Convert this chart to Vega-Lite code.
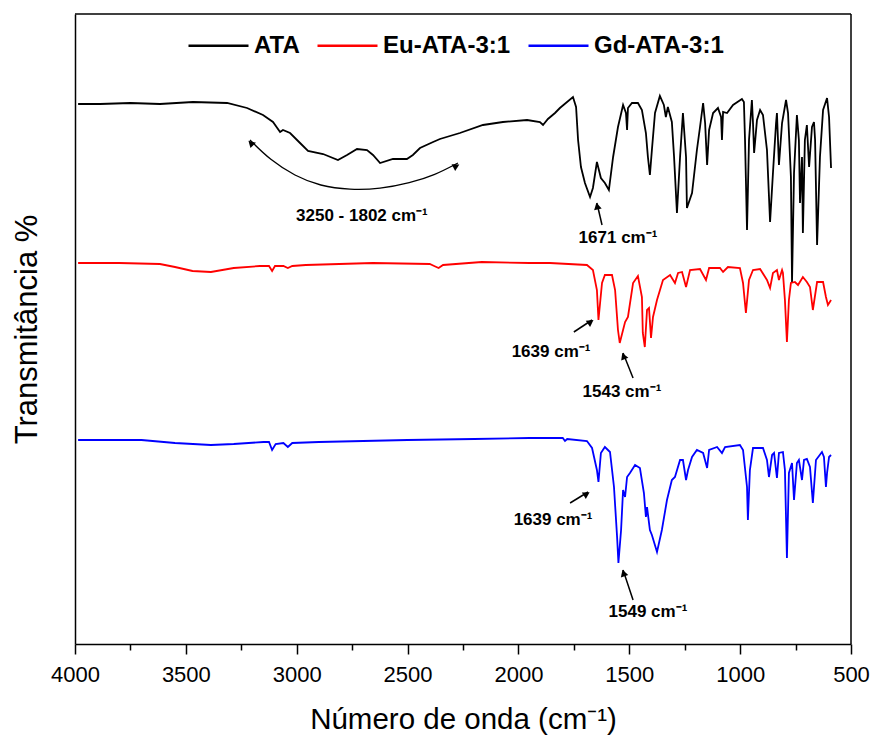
{
  "$schema": "https://vega.github.io/schema/vega-lite/v6.json",
  "width": 776,
  "height": 630,
  "autosize": {"type": "none"},
  "padding": {"left": 75, "top": 14, "right": 21, "bottom": 101},
  "background": "white",
  "config": {
    "font": "Liberation Sans",
    "view": {"stroke": null},
    "axis": {"grid": false}
  },
  "datasets": {
    "spectra": [
      {"s":"ATA","w":3986,"t":540},{"s":"ATA","w":3887,"t":540},{"s":"ATA","w":3750,"t":541},{"s":"ATA","w":3617,"t":540},{"s":"ATA","w":3468,"t":542},{"s":"ATA","w":3314,"t":541},{"s":"ATA","w":3224,"t":536},{"s":"ATA","w":3152,"t":529},{"s":"ATA","w":3107,"t":522},{"s":"ATA","w":3075,"t":512},{"s":"ATA","w":3062,"t":514},{"s":"ATA","w":3030,"t":511},{"s":"ATA","w":2985,"t":501},{"s":"ATA","w":2949,"t":493},{"s":"ATA","w":2881,"t":490},{"s":"ATA","w":2814,"t":484},{"s":"ATA","w":2773,"t":489},{"s":"ATA","w":2728,"t":495},{"s":"ATA","w":2683,"t":494},{"s":"ATA","w":2656,"t":489},{"s":"ATA","w":2624,"t":481},{"s":"ATA","w":2566,"t":485},{"s":"ATA","w":2503,"t":485},{"s":"ATA","w":2476,"t":489},{"s":"ATA","w":2444,"t":496},{"s":"ATA","w":2385,"t":502},{"s":"ATA","w":2354,"t":505},{"s":"ATA","w":2264,"t":511},{"s":"ATA","w":2160,"t":519},{"s":"ATA","w":2070,"t":522},{"s":"ATA","w":1961,"t":524},{"s":"ATA","w":1903,"t":522},{"s":"ATA","w":1889,"t":519},{"s":"ATA","w":1867,"t":525},{"s":"ATA","w":1835,"t":531},{"s":"ATA","w":1813,"t":536},{"s":"ATA","w":1754,"t":547},{"s":"ATA","w":1740,"t":537},{"s":"ATA","w":1731,"t":504},{"s":"ATA","w":1718,"t":477},{"s":"ATA","w":1700,"t":461},{"s":"ATA","w":1677,"t":447},{"s":"ATA","w":1664,"t":456},{"s":"ATA","w":1646,"t":482},{"s":"ATA","w":1628,"t":466},{"s":"ATA","w":1610,"t":461},{"s":"ATA","w":1592,"t":454},{"s":"ATA","w":1573,"t":487},{"s":"ATA","w":1551,"t":517},{"s":"ATA","w":1528,"t":539},{"s":"ATA","w":1515,"t":531},{"s":"ATA","w":1510,"t":514},{"s":"ATA","w":1506,"t":536},{"s":"ATA","w":1488,"t":541},{"s":"ATA","w":1461,"t":541},{"s":"ATA","w":1443,"t":534},{"s":"ATA","w":1425,"t":511},{"s":"ATA","w":1416,"t":487},{"s":"ATA","w":1407,"t":469},{"s":"ATA","w":1398,"t":494},{"s":"ATA","w":1384,"t":531},{"s":"ATA","w":1362,"t":548},{"s":"ATA","w":1344,"t":539},{"s":"ATA","w":1335,"t":527},{"s":"ATA","w":1326,"t":537},{"s":"ATA","w":1308,"t":522},{"s":"ATA","w":1298,"t":487},{"s":"ATA","w":1285,"t":431},{"s":"ATA","w":1271,"t":487},{"s":"ATA","w":1258,"t":531},{"s":"ATA","w":1244,"t":487},{"s":"ATA","w":1240,"t":436},{"s":"ATA","w":1217,"t":451},{"s":"ATA","w":1195,"t":494},{"s":"ATA","w":1181,"t":517},{"s":"ATA","w":1167,"t":541},{"s":"ATA","w":1158,"t":521},{"s":"ATA","w":1149,"t":479},{"s":"ATA","w":1140,"t":514},{"s":"ATA","w":1122,"t":531},{"s":"ATA","w":1100,"t":536},{"s":"ATA","w":1086,"t":527},{"s":"ATA","w":1082,"t":504},{"s":"ATA","w":1077,"t":532},{"s":"ATA","w":1059,"t":531},{"s":"ATA","w":1032,"t":539},{"s":"ATA","w":992,"t":545},{"s":"ATA","w":983,"t":542},{"s":"ATA","w":978,"t":504},{"s":"ATA","w":969,"t":414},{"s":"ATA","w":960,"t":504},{"s":"ATA","w":947,"t":544},{"s":"ATA","w":942,"t":521},{"s":"ATA","w":937,"t":491},{"s":"ATA","w":924,"t":524},{"s":"ATA","w":910,"t":534},{"s":"ATA","w":897,"t":529},{"s":"ATA","w":879,"t":494},{"s":"ATA","w":865,"t":422},{"s":"ATA","w":852,"t":471},{"s":"ATA","w":838,"t":521},{"s":"ATA","w":834,"t":531},{"s":"ATA","w":825,"t":479},{"s":"ATA","w":811,"t":521},{"s":"ATA","w":793,"t":544},{"s":"ATA","w":784,"t":531},{"s":"ATA","w":771,"t":467},{"s":"ATA","w":766,"t":362},{"s":"ATA","w":757,"t":471},{"s":"ATA","w":744,"t":529},{"s":"ATA","w":735,"t":504},{"s":"ATA","w":730,"t":441},{"s":"ATA","w":721,"t":487},{"s":"ATA","w":717,"t":411},{"s":"ATA","w":708,"t":504},{"s":"ATA","w":699,"t":519},{"s":"ATA","w":689,"t":477},{"s":"ATA","w":676,"t":517},{"s":"ATA","w":667,"t":522},{"s":"ATA","w":662,"t":504},{"s":"ATA","w":653,"t":399},{"s":"ATA","w":640,"t":487},{"s":"ATA","w":626,"t":534},{"s":"ATA","w":608,"t":546},{"s":"ATA","w":599,"t":527},{"s":"ATA","w":590,"t":476},

      {"s":"Eu-ATA-3:1","w":3986,"t":381},{"s":"Eu-ATA-3:1","w":3800,"t":381},{"s":"Eu-ATA-3:1","w":3617,"t":380},{"s":"Eu-ATA-3:1","w":3549,"t":377},{"s":"Eu-ATA-3:1","w":3470,"t":373},{"s":"Eu-ATA-3:1","w":3387,"t":372},{"s":"Eu-ATA-3:1","w":3284,"t":376},{"s":"Eu-ATA-3:1","w":3166,"t":378},{"s":"Eu-ATA-3:1","w":3125,"t":378},{"s":"Eu-ATA-3:1","w":3111,"t":373},{"s":"Eu-ATA-3:1","w":3098,"t":378},{"s":"Eu-ATA-3:1","w":3060,"t":378},{"s":"Eu-ATA-3:1","w":3040,"t":376},{"s":"Eu-ATA-3:1","w":3020,"t":378},{"s":"Eu-ATA-3:1","w":2959,"t":379},{"s":"Eu-ATA-3:1","w":2657,"t":381},{"s":"Eu-ATA-3:1","w":2400,"t":380},{"s":"Eu-ATA-3:1","w":2380,"t":378},{"s":"Eu-ATA-3:1","w":2360,"t":376},{"s":"Eu-ATA-3:1","w":2340,"t":379},{"s":"Eu-ATA-3:1","w":2165,"t":382},{"s":"Eu-ATA-3:1","w":1950,"t":381},{"s":"Eu-ATA-3:1","w":1858,"t":381},{"s":"Eu-ATA-3:1","w":1691,"t":379},{"s":"Eu-ATA-3:1","w":1664,"t":374},{"s":"Eu-ATA-3:1","w":1646,"t":354},{"s":"Eu-ATA-3:1","w":1639,"t":324},{"s":"Eu-ATA-3:1","w":1623,"t":361},{"s":"Eu-ATA-3:1","w":1610,"t":369},{"s":"Eu-ATA-3:1","w":1578,"t":369},{"s":"Eu-ATA-3:1","w":1564,"t":354},{"s":"Eu-ATA-3:1","w":1551,"t":314},{"s":"Eu-ATA-3:1","w":1543,"t":301},{"s":"Eu-ATA-3:1","w":1519,"t":322},{"s":"Eu-ATA-3:1","w":1506,"t":327},{"s":"Eu-ATA-3:1","w":1483,"t":361},{"s":"Eu-ATA-3:1","w":1461,"t":368},{"s":"Eu-ATA-3:1","w":1443,"t":347},{"s":"Eu-ATA-3:1","w":1439,"t":311},{"s":"Eu-ATA-3:1","w":1430,"t":297},{"s":"Eu-ATA-3:1","w":1420,"t":334},{"s":"Eu-ATA-3:1","w":1411,"t":336},{"s":"Eu-ATA-3:1","w":1402,"t":306},{"s":"Eu-ATA-3:1","w":1393,"t":327},{"s":"Eu-ATA-3:1","w":1375,"t":344},{"s":"Eu-ATA-3:1","w":1348,"t":364},{"s":"Eu-ATA-3:1","w":1316,"t":369},{"s":"Eu-ATA-3:1","w":1294,"t":361},{"s":"Eu-ATA-3:1","w":1280,"t":371},{"s":"Eu-ATA-3:1","w":1262,"t":372},{"s":"Eu-ATA-3:1","w":1244,"t":357},{"s":"Eu-ATA-3:1","w":1226,"t":374},{"s":"Eu-ATA-3:1","w":1181,"t":375},{"s":"Eu-ATA-3:1","w":1154,"t":364},{"s":"Eu-ATA-3:1","w":1140,"t":376},{"s":"Eu-ATA-3:1","w":1091,"t":376},{"s":"Eu-ATA-3:1","w":1077,"t":372},{"s":"Eu-ATA-3:1","w":1055,"t":377},{"s":"Eu-ATA-3:1","w":1001,"t":376},{"s":"Eu-ATA-3:1","w":987,"t":361},{"s":"Eu-ATA-3:1","w":974,"t":331},{"s":"Eu-ATA-3:1","w":960,"t":364},{"s":"Eu-ATA-3:1","w":942,"t":374},{"s":"Eu-ATA-3:1","w":910,"t":375},{"s":"Eu-ATA-3:1","w":879,"t":364},{"s":"Eu-ATA-3:1","w":865,"t":356},{"s":"Eu-ATA-3:1","w":852,"t":371},{"s":"Eu-ATA-3:1","w":834,"t":374},{"s":"Eu-ATA-3:1","w":825,"t":364},{"s":"Eu-ATA-3:1","w":811,"t":374},{"s":"Eu-ATA-3:1","w":807,"t":371},{"s":"Eu-ATA-3:1","w":798,"t":344},{"s":"Eu-ATA-3:1","w":789,"t":302},{"s":"Eu-ATA-3:1","w":780,"t":344},{"s":"Eu-ATA-3:1","w":771,"t":361},{"s":"Eu-ATA-3:1","w":753,"t":362},{"s":"Eu-ATA-3:1","w":739,"t":359},{"s":"Eu-ATA-3:1","w":717,"t":367},{"s":"Eu-ATA-3:1","w":699,"t":362},{"s":"Eu-ATA-3:1","w":685,"t":357},{"s":"Eu-ATA-3:1","w":672,"t":334},{"s":"Eu-ATA-3:1","w":653,"t":362},{"s":"Eu-ATA-3:1","w":626,"t":362},{"s":"Eu-ATA-3:1","w":613,"t":347},{"s":"Eu-ATA-3:1","w":604,"t":339},{"s":"Eu-ATA-3:1","w":590,"t":344},

      {"s":"Gd-ATA-3:1","w":3986,"t":204},{"s":"Gd-ATA-3:1","w":3700,"t":204},{"s":"Gd-ATA-3:1","w":3549,"t":201},{"s":"Gd-ATA-3:1","w":3387,"t":199},{"s":"Gd-ATA-3:1","w":3284,"t":200},{"s":"Gd-ATA-3:1","w":3150,"t":202},{"s":"Gd-ATA-3:1","w":3125,"t":202},{"s":"Gd-ATA-3:1","w":3111,"t":194},{"s":"Gd-ATA-3:1","w":3095,"t":200},{"s":"Gd-ATA-3:1","w":3060,"t":201},{"s":"Gd-ATA-3:1","w":3040,"t":197},{"s":"Gd-ATA-3:1","w":3020,"t":201},{"s":"Gd-ATA-3:1","w":2900,"t":202},{"s":"Gd-ATA-3:1","w":2500,"t":204},{"s":"Gd-ATA-3:1","w":2200,"t":205},{"s":"Gd-ATA-3:1","w":1950,"t":206},{"s":"Gd-ATA-3:1","w":1858,"t":206},{"s":"Gd-ATA-3:1","w":1800,"t":206},{"s":"Gd-ATA-3:1","w":1790,"t":203},{"s":"Gd-ATA-3:1","w":1780,"t":205},{"s":"Gd-ATA-3:1","w":1691,"t":203},{"s":"Gd-ATA-3:1","w":1668,"t":196},{"s":"Gd-ATA-3:1","w":1646,"t":174},{"s":"Gd-ATA-3:1","w":1639,"t":162},{"s":"Gd-ATA-3:1","w":1628,"t":191},{"s":"Gd-ATA-3:1","w":1610,"t":197},{"s":"Gd-ATA-3:1","w":1587,"t":192},{"s":"Gd-ATA-3:1","w":1569,"t":157},{"s":"Gd-ATA-3:1","w":1555,"t":107},{"s":"Gd-ATA-3:1","w":1549,"t":81},{"s":"Gd-ATA-3:1","w":1537,"t":114},{"s":"Gd-ATA-3:1","w":1528,"t":154},{"s":"Gd-ATA-3:1","w":1519,"t":147},{"s":"Gd-ATA-3:1","w":1510,"t":167},{"s":"Gd-ATA-3:1","w":1497,"t":171},{"s":"Gd-ATA-3:1","w":1474,"t":179},{"s":"Gd-ATA-3:1","w":1452,"t":176},{"s":"Gd-ATA-3:1","w":1434,"t":151},{"s":"Gd-ATA-3:1","w":1425,"t":127},{"s":"Gd-ATA-3:1","w":1420,"t":137},{"s":"Gd-ATA-3:1","w":1407,"t":114},{"s":"Gd-ATA-3:1","w":1398,"t":109},{"s":"Gd-ATA-3:1","w":1375,"t":92},{"s":"Gd-ATA-3:1","w":1353,"t":114},{"s":"Gd-ATA-3:1","w":1330,"t":144},{"s":"Gd-ATA-3:1","w":1308,"t":164},{"s":"Gd-ATA-3:1","w":1294,"t":167},{"s":"Gd-ATA-3:1","w":1271,"t":184},{"s":"Gd-ATA-3:1","w":1258,"t":184},{"s":"Gd-ATA-3:1","w":1244,"t":164},{"s":"Gd-ATA-3:1","w":1235,"t":174},{"s":"Gd-ATA-3:1","w":1217,"t":187},{"s":"Gd-ATA-3:1","w":1195,"t":194},{"s":"Gd-ATA-3:1","w":1167,"t":191},{"s":"Gd-ATA-3:1","w":1149,"t":176},{"s":"Gd-ATA-3:1","w":1140,"t":194},{"s":"Gd-ATA-3:1","w":1104,"t":197},{"s":"Gd-ATA-3:1","w":1082,"t":191},{"s":"Gd-ATA-3:1","w":1068,"t":197},{"s":"Gd-ATA-3:1","w":1001,"t":199},{"s":"Gd-ATA-3:1","w":987,"t":194},{"s":"Gd-ATA-3:1","w":969,"t":157},{"s":"Gd-ATA-3:1","w":965,"t":124},{"s":"Gd-ATA-3:1","w":956,"t":174},{"s":"Gd-ATA-3:1","w":942,"t":196},{"s":"Gd-ATA-3:1","w":897,"t":196},{"s":"Gd-ATA-3:1","w":879,"t":184},{"s":"Gd-ATA-3:1","w":870,"t":167},{"s":"Gd-ATA-3:1","w":856,"t":189},{"s":"Gd-ATA-3:1","w":847,"t":191},{"s":"Gd-ATA-3:1","w":834,"t":166},{"s":"Gd-ATA-3:1","w":825,"t":191},{"s":"Gd-ATA-3:1","w":807,"t":192},{"s":"Gd-ATA-3:1","w":798,"t":174},{"s":"Gd-ATA-3:1","w":789,"t":86},{"s":"Gd-ATA-3:1","w":780,"t":171},{"s":"Gd-ATA-3:1","w":766,"t":181},{"s":"Gd-ATA-3:1","w":757,"t":144},{"s":"Gd-ATA-3:1","w":744,"t":181},{"s":"Gd-ATA-3:1","w":735,"t":184},{"s":"Gd-ATA-3:1","w":721,"t":164},{"s":"Gd-ATA-3:1","w":712,"t":184},{"s":"Gd-ATA-3:1","w":699,"t":185},{"s":"Gd-ATA-3:1","w":685,"t":177},{"s":"Gd-ATA-3:1","w":672,"t":141},{"s":"Gd-ATA-3:1","w":658,"t":184},{"s":"Gd-ATA-3:1","w":631,"t":192},{"s":"Gd-ATA-3:1","w":622,"t":187},{"s":"Gd-ATA-3:1","w":613,"t":157},{"s":"Gd-ATA-3:1","w":608,"t":171},{"s":"Gd-ATA-3:1","w":599,"t":187},{"s":"Gd-ATA-3:1","w":590,"t":189}
    ],
    "arc": [
      {"w":3211,"t":504},{"w":3120,"t":484},{"w":3008,"t":468},{"w":2895,"t":458},{"w":2760,"t":454},{"w":2624,"t":455},{"w":2489,"t":461},{"w":2376,"t":469},{"w":2273,"t":481}
    ],
    "frame": [
      {"w":4000,"t":630,"w2":500,"t2":630},
      {"w":500,"t":0,"w2":500,"t2":630}
    ],
    "arrows": [
      {"w":1623,"t":419,"w2":1646,"t2":441},
      {"w":1750,"t":312,"w2":1668,"t2":324},
      {"w":1483,"t":266,"w2":1528,"t2":291},
      {"w":1767,"t":141,"w2":1686,"t2":152},
      {"w":1483,"t":44,"w2":1528,"t2":74}
    ],
    "heads": [
      {"w":3207,"t":501,"a":315},
      {"w":2280,"t":478,"a":62},
      {"w":1645,"t":438,"a":347},
      {"w":1674,"t":322,"a":56},
      {"w":1526,"t":288,"a":338},
      {"w":1692,"t":150,"a":59},
      {"w":1526,"t":71,"a":342}
    ],
    "labels": [
      {"w":2706,"t":428,"label":"3250 - 1802 cm⁻¹"},
      {"w":1551,"t":406,"label":"1671 cm⁻¹"},
      {"w":1853,"t":292,"label":"1639 cm⁻¹"},
      {"w":1533,"t":252,"label":"1543 cm⁻¹"},
      {"w":1844,"t":124,"label":"1639 cm⁻¹"},
      {"w":1416,"t":32,"label":"1549 cm⁻¹"}
    ]
  },
  "encoding": {
    "x": {
      "field": "w",
      "type": "quantitative",
      "scale": {"domain": [500, 4000], "reverse": true, "nice": false, "zero": false},
      "axis": {
        "title": "Número de onda (cm⁻¹)",
        "titleFontSize": 29.5,
        "titleFontWeight": "normal",
        "titleColor": "black",
        "titlePadding": 20,
        "values": [4000,3750,3500,3250,3000,2750,2500,2250,2000,1750,1500,1250,1000,750,500],
        "labelExpr": "datum.value % 500 === 0 ? datum.value : ''",
        "labelFontSize": 22,
        "labelColor": "black",
        "labelFlush": false,
        "labelPadding": 10,
        "tickColor": "black",
        "tickWidth": 1.5,
        "tickSize": {"condition": {"test": "datum.value % 500 === 0", "value": 10}, "value": 6},
        "domainColor": "black",
        "domainWidth": 1.5
      }
    },
    "y": {
      "field": "t",
      "type": "quantitative",
      "scale": {"domain": [0, 630], "nice": false},
      "axis": {
        "title": "Transmitância %",
        "titleFontSize": 31,
        "titleFontWeight": "normal",
        "titleColor": "black",
        "titlePadding": 32,
        "labels": false,
        "ticks": false,
        "domainColor": "black",
        "domainWidth": 1.5
      }
    }
  },
  "layer": [
    {
      "data": {"name": "frame"},
      "mark": {"type": "rule", "color": "black", "strokeWidth": 1.5},
      "encoding": {
        "x2": {"field": "w2"},
        "y2": {"field": "t2"}
      }
    },
    {
      "data": {"name": "spectra"},
      "mark": {"type": "line", "strokeWidth": 1.8},
      "encoding": {
        "color": {
          "field": "s",
          "type": "nominal",
          "scale": {"domain": ["ATA", "Eu-ATA-3:1", "Gd-ATA-3:1"], "range": ["#000000", "#ff0000", "#0000ff"]},
          "legend": {
            "title": null,
            "orient": "none",
            "direction": "horizontal",
            "legendX": 112,
            "legendY": 0,
            "symbolType": "stroke",
            "symbolSize": 3600,
            "symbolStrokeWidth": 2.5,
            "labelFontSize": 24,
            "labelFontWeight": "bold",
            "labelColor": "black",
            "labelOffset": 4,
            "columnPadding": 12
          }
        }
      }
    },
    {
      "data": {"name": "arc"},
      "mark": {"type": "line", "color": "black", "strokeWidth": 1.3, "interpolate": "basis"},
      "encoding": {}
    },
    {
      "data": {"name": "arrows"},
      "mark": {"type": "rule", "color": "black", "strokeWidth": 1.5},
      "encoding": {
        "x2": {"field": "w2"},
        "y2": {"field": "t2"}
      }
    },
    {
      "data": {"name": "heads"},
      "mark": {"type": "point", "shape": "triangle-up", "filled": true, "color": "black", "opacity": 1, "size": 60},
      "encoding": {
        "angle": {"field": "a", "type": "quantitative", "scale": null}
      }
    },
    {
      "data": {"name": "labels"},
      "mark": {"type": "text", "fontSize": 17, "fontWeight": "bold", "color": "black", "align": "center", "baseline": "middle"},
      "encoding": {
        "text": {"field": "label", "type": "nominal"}
      }
    }
  ]
}
